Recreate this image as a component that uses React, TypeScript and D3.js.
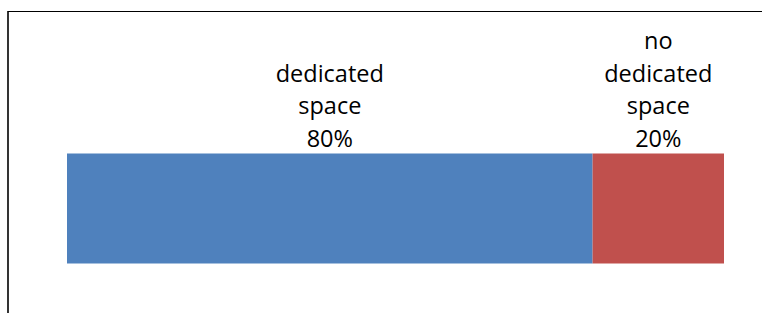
import React from "react";
import * as d3 from "d3";

const categories = ["dedicated space", "no dedicated space"];
const values = [80, 20];
const labelLines = [["dedicated", "space", "80%"], ["no", "dedicated", "space", "20%"]];
const colors = ["#4F81BD", "#C0504D"];

export default function App() {
  const W = 763, H = 313;
  const x = d3.scaleLinear().domain([0, 100]).range([67, 724]);
  const barTop = 153.5, barBottom = 263.5;
  const stack = d3.stack<any>().keys(categories)([
    Object.fromEntries(categories.map((c, i) => [c, values[i]])),
  ]);
  const lineH = 32.7;
  const lastBaseline = 147;
  return (
    <svg width={W} height={H} style={{ position: "absolute", left: 0, top: 0, background: "#fff" }}>
      <line x1={8} y1={11.5} x2={762} y2={11.5} stroke="#000" strokeWidth={1} />
      <line x1={8} y1={11} x2={8} y2={H + 5} stroke="#000" strokeWidth={1.6} />
      {stack.map((s, i) => {
        const [a, b] = s[0];
        const cx = (x(a) + x(b)) / 2;
        const lines = labelLines[i];
        return (
          <g key={categories[i]}>
            <rect x={x(a)} y={barTop} width={x(b) - x(a)} height={barBottom - barTop} fill={colors[i]} />
            {lines.map((t, j) => (
              <text
                key={j}
                x={cx}
                y={lastBaseline - (lines.length - 1 - j) * lineH}
                textAnchor="middle"
                fontFamily="'Open Sans', sans-serif"
                fontSize={23.5}
                fill="#000"
              >
                {t}
              </text>
            ))}
          </g>
        );
      })}
    </svg>
  );
}
